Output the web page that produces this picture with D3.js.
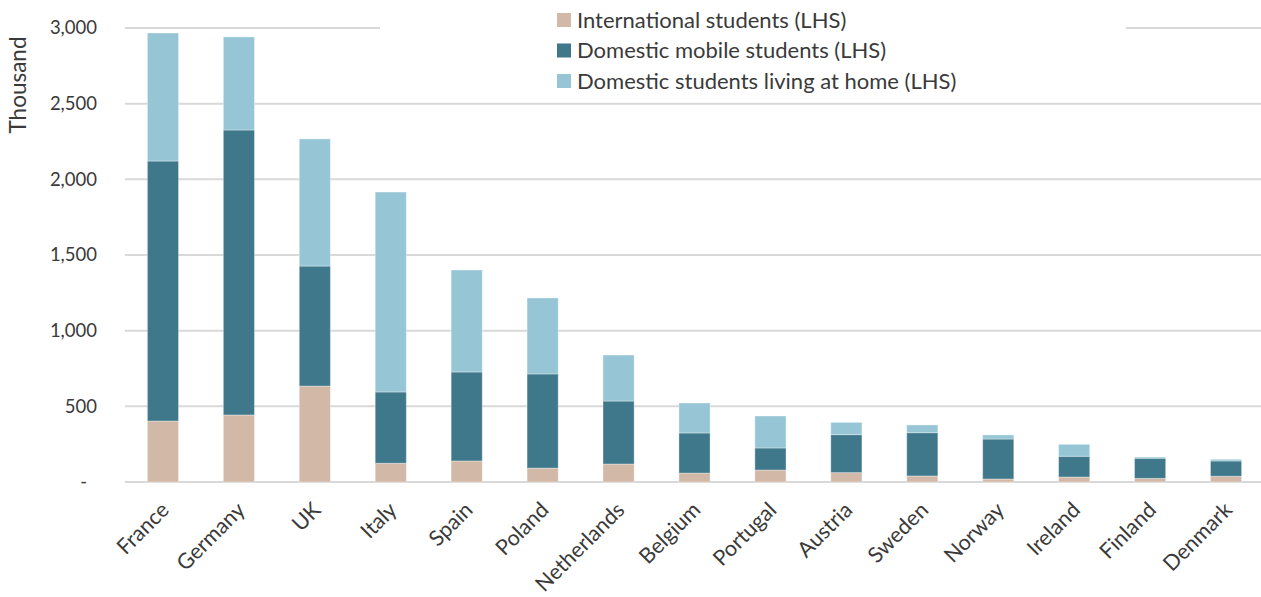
<!DOCTYPE html>
<html>
<head>
<meta charset="utf-8">
<script src="https://cdn.jsdelivr.net/npm/d3@7"></script>
<style>
  html, body { margin: 0; padding: 0; background: #fff; }
  svg { display: block; }
  text { font-family: Lato, "Open Sans", sans-serif; fill: #3a3a3a; }
</style>
</head>
<body>
<svg id="chart" width="1261" height="597"></svg>
<script>
// Student population by country, thousands
const countries = ["France", "Germany", "UK", "Italy", "Spain", "Poland", "Netherlands",
  "Belgium", "Portugal", "Austria", "Sweden", "Norway", "Ireland", "Finland", "Denmark"];
const international = [403, 443, 634, 124, 139, 92, 119, 59, 79, 62, 40, 20, 33, 24, 38];
const domesticMobile = [1718, 1883, 793, 471, 588, 622, 416, 265, 146, 251, 286, 264, 137, 133, 101];
const domesticHome = [846, 615, 840, 1321, 674, 502, 304, 198, 211, 81, 51, 27, 79, 8, 11];

const seriesNames = ["International students (LHS)", "Domestic mobile students (LHS)", "Domestic students living at home (LHS)"];
const seriesColors = ["#d1b8a7", "#3f788b", "#96c6d5"];
const yTicks = [0, 500, 1000, 1500, 2000, 2500, 3000];

const svg = d3.select("#chart");
const margin = { left: 125, right: -3, top: 28, bottom: 115 };
const W = 1261, H = 597;
const FONT = "Lato, 'Open Sans', sans-serif";

const rows = countries.map((c, i) => ({
  country: c, s0: international[i], s1: domesticMobile[i], s2: domesticHome[i]
}));
const stack = d3.stack().keys(["s0", "s1", "s2"])(rows);

const x = d3.scaleBand().domain(countries)
  .range([margin.left, W - margin.right]).paddingInner(0.59).paddingOuter(0.295);
const y = d3.scaleLinear().domain([0, 3000]).range([H - margin.bottom, margin.top]);

// gridlines
svg.append("g").selectAll("line").data(yTicks).join("line")
  .attr("x1", margin.left).attr("x2", W)
  .attr("y1", d => y(d)).attr("y2", d => y(d))
  .attr("stroke", "#d9d9d9").attr("stroke-width", 2);

// y axis labels
const yAxis = d3.axisLeft(y).tickValues(yTicks).tickSize(0).tickPadding(0)
  .tickFormat(d => d === 0 ? "-" : d3.format(",")(d));
svg.append("g").attr("transform", "translate(97,0)").call(yAxis)
  .call(g => g.select(".domain").remove())
  .call(g => g.selectAll("text").attr("font-size", 18.5)
    .attr("fill", "#3a3a3a").style("font-family", FONT))
  .call(g => g.selectAll(".tick").filter(d => d === 0).select("text").attr("dx", -10));

svg.append("text").attr("transform", "translate(26,85) rotate(-90)")
  .attr("text-anchor", "middle").attr("font-size", 22.5).text("Thousand");

// stacked bars
svg.append("g").selectAll("g").data(stack).join("g")
  .attr("fill", (d, i) => seriesColors[i])
  .selectAll("rect").data(d => d).join("rect")
  .attr("x", d => x(d.data.country))
  .attr("width", x.bandwidth())
  .attr("y", d => y(d[1]))
  .attr("height", d => y(d[0]) - y(d[1]))
  .attr("stroke", "rgba(255,255,255,0.35)").attr("stroke-width", 1);

// x axis labels, rotated
const xAxis = d3.axisBottom(x).tickSize(0).tickPadding(0);
svg.append("g").attr("transform", `translate(0,${y(0) + 18})`).call(xAxis)
  .call(g => g.select(".domain").remove())
  .call(g => g.selectAll("text")
    .attr("font-size", 21.5).attr("fill", "#3a3a3a")
    .style("font-family", FONT)
    .attr("text-anchor", "end").attr("dy", "0.35em").attr("x", 0).attr("y", 0)
    .attr("transform", "translate(2,6) rotate(-45)"));

// legend
const legend = svg.append("g");
legend.append("rect").attr("x", 380).attr("y", 0).attr("width", 746).attr("height", 96).attr("fill", "#fff");
const items = legend.selectAll("g.item").data(seriesNames).join("g").attr("class", "item")
  .attr("transform", (d, i) => `translate(557,${20 + i * 30.5})`);
items.append("rect").attr("x", 0).attr("y", -7).attr("width", 14).attr("height", 14)
  .attr("fill", (d, i) => seriesColors[i]);
items.append("text").attr("x", 20).attr("dy", "0.35em").attr("font-size", 22).text(d => d);
</script>
</body>
</html>
